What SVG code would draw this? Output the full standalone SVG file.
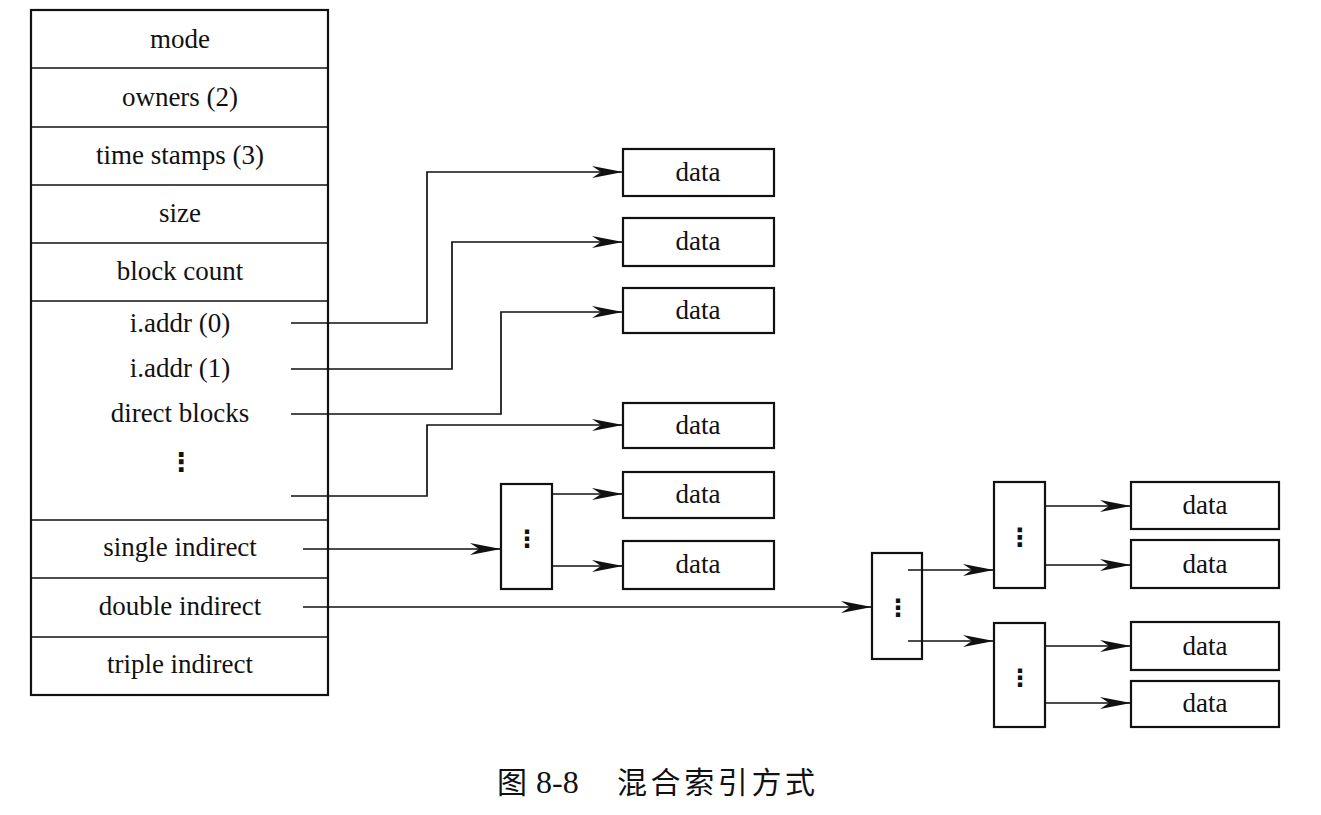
<svg xmlns="http://www.w3.org/2000/svg" width="1321" height="815" viewBox="0 0 1321 815">
<defs>
<marker id="arr" markerUnits="userSpaceOnUse" markerWidth="34" markerHeight="16" refX="31" refY="8" orient="auto">
<path d="M0,2 L31,8 L0,14 L9,8 Z" fill="#111"/>
</marker>
<style>
.box{fill:#fff;stroke:#111;stroke-width:2.2}
.t{font-family:"Liberation Serif","Times New Roman",serif;font-size:27px;fill:#111;text-anchor:middle}
.dots{font-family:"DejaVu Sans",sans-serif;font-weight:bold;fill:#111;text-anchor:middle}
.ln{fill:none;stroke:#111;stroke-width:1.7}
.ar{fill:none;stroke:#111;stroke-width:1.7;marker-end:url(#arr)}
</style>
</defs>
<rect width="1321" height="815" fill="#fff"/>

<g id="inode">
<rect class="box" x="31" y="10" width="297" height="685"/>
<line class="ln" x1="31" y1="68" x2="328" y2="68" stroke-width="2"/>
<line class="ln" x1="31" y1="127" x2="328" y2="127" stroke-width="2"/>
<line class="ln" x1="31" y1="185" x2="328" y2="185" stroke-width="2"/>
<line class="ln" x1="31" y1="243" x2="328" y2="243" stroke-width="2"/>
<line class="ln" x1="31" y1="301" x2="328" y2="301" stroke-width="2"/>
<line class="ln" x1="31" y1="520" x2="328" y2="520" stroke-width="2"/>
<line class="ln" x1="31" y1="578" x2="328" y2="578" stroke-width="2"/>
<line class="ln" x1="31" y1="637" x2="328" y2="637" stroke-width="2"/>
<text class="t" x="180" y="48">mode</text>
<text class="t" x="180" y="106">owners (2)</text>
<text class="t" x="180" y="164">time stamps (3)</text>
<text class="t" x="180" y="222">size</text>
<text class="t" x="180" y="280">block count</text>
<text class="t" x="180" y="332">i.addr (0)</text>
<text class="t" x="180" y="377">i.addr (1)</text>
<text class="t" x="180" y="422">direct blocks</text>
<text class="dots" x="181" y="471" font-size="26">⋮</text>
<text class="t" x="180" y="556">single indirect</text>
<text class="t" x="180" y="615">double indirect</text>
<text class="t" x="180" y="673">triple indirect</text>
</g>

<g id="data1"><rect class="box" x="623" y="149" width="151" height="47"/><text class="t" x="698" y="181">data</text></g>
<g id="data2"><rect class="box" x="623" y="218" width="151" height="48"/><text class="t" x="698" y="250">data</text></g>
<g id="data3"><rect class="box" x="623" y="288" width="151" height="45"/><text class="t" x="698" y="319">data</text></g>
<g id="data4"><rect class="box" x="623" y="403" width="151" height="45"/><text class="t" x="698" y="434">data</text></g>
<g id="data5"><rect class="box" x="623" y="472" width="151" height="46"/><text class="t" x="698" y="503">data</text></g>
<g id="data6"><rect class="box" x="623" y="541" width="151" height="48"/><text class="t" x="698" y="573">data</text></g>

<g id="single"><rect class="box" x="501" y="484" width="51" height="105"/><text class="dots" x="527" y="547" font-size="24">⋮</text></g>
<g id="double"><rect class="box" x="872" y="553" width="50" height="106"/><text class="dots" x="898" y="616" font-size="24">⋮</text></g>
<g id="doubleA"><rect class="box" x="994" y="482" width="51" height="106"/><text class="dots" x="1020" y="546" font-size="25">⋮</text></g>
<g id="doubleB"><rect class="box" x="994" y="623" width="51" height="104"/><text class="dots" x="1020" y="686" font-size="24">⋮</text></g>

<g id="data7"><rect class="box" x="1131" y="482" width="148" height="47"/><text class="t" x="1205" y="514">data</text></g>
<g id="data8"><rect class="box" x="1131" y="540" width="148" height="48"/><text class="t" x="1205" y="573">data</text></g>
<g id="data9"><rect class="box" x="1131" y="622" width="148" height="48"/><text class="t" x="1205" y="655">data</text></g>
<g id="data10"><rect class="box" x="1131" y="681" width="148" height="46"/><text class="t" x="1205" y="712">data</text></g>

<g id="connectors">
<path class="ar" d="M291,323 H427 V172 H623"/>
<path class="ar" d="M291,369 H452 V242 H623"/>
<path class="ar" d="M291,414 H501 V312 H623"/>
<path class="ar" d="M291,496 H427 V425 H623"/>
<path class="ar" d="M303,549 H501"/>
<path class="ar" d="M552,494 H623"/>
<path class="ar" d="M552,566 H623"/>
<path class="ar" d="M303,607 H872"/>
<path class="ar" d="M908,570 H994"/>
<path class="ar" d="M908,641 H994"/>
<path class="ar" d="M1045,506 H1131"/>
<path class="ar" d="M1045,565 H1131"/>
<path class="ar" d="M1045,646 H1131"/>
<path class="ar" d="M1045,703 H1131"/>
</g>

<g id="caption">
<text x="497" y="793" font-family="'Noto Sans CJK SC',sans-serif" font-size="30" fill="#111">图</text>
<text x="536" y="793" font-family="'Liberation Serif',serif" font-size="32" fill="#111">8-8</text>
<text x="617" y="793" font-family="'Noto Sans CJK SC',sans-serif" font-size="30" letter-spacing="3.6" fill="#111">混合索引方式</text>
</g>
</svg>
